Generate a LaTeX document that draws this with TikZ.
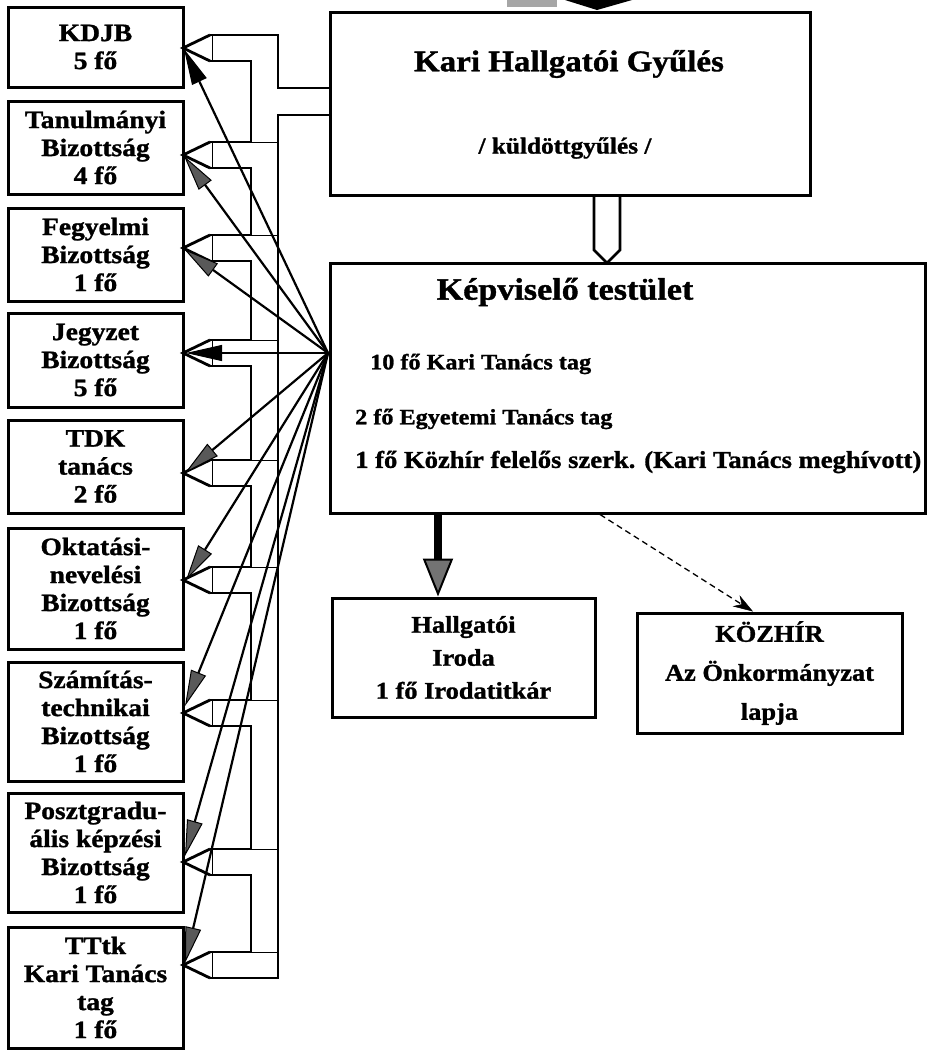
\documentclass[tikz,border=0pt]{standalone}
\usepackage{fontspec}
\setmainfont{Liberation Serif}[FakeStretch=1.1, BoldFeatures={FakeBold=1.2}]
\usetikzlibrary{arrows.meta}
\begin{document}
\begin{tikzpicture}[x=1pt,y=-1pt,
  lbox/.style={draw, line width=3pt, minimum width=175pt, inner sep=0pt, align=center,
    font=\bfseries\fontsize{25}{28}\selectfont},
  bigbox/.style={draw, line width=3pt, inner sep=0pt},
  wall/.style={line width=2.8pt, line join=miter},
  thinwall/.style={line width=0.9pt},
  fan/.style={line width=2.2pt, -{Triangle[length=36pt,width=16pt,line width=1pt,fill=#1]}},
  fan/.default={black!65},
  ktline/.style={anchor=west, inner sep=0pt, font=\bfseries\fontsize{22}{22}\selectfont},
]
\useasboundingbox (0,0) rectangle (927,1050);

% partial shape at the top edge
\fill[black!35] (507,0) rectangle (557,7);
\fill (565,0) -- (597,10) -- (632,0) -- cycle;

% left column boxes
\node[lbox, minimum height=80pt]  (b1) at (95.5,47)    {KDJB\\5 fő};
\node[lbox, minimum height=93pt]  (b2) at (95.5,147.5) {Tanulmányi\\Bizottság\\4 fő};
\node[lbox, minimum height=93pt]  (b3) at (95.5,254.5) {Fegyelmi\\Bizottság\\1 fő};
\node[lbox, minimum height=94pt]  (b4) at (95.5,360)   {Jegyzet\\Bizottság\\5 fő};
\node[lbox, minimum height=93pt]  (b5) at (95.5,466.5) {TDK\\tanács\\2 fő};
\node[lbox, minimum height=121pt] (b6) at (95.5,588.5) {Oktatási-\\nevelési\\Bizottság\\1 fő};
\node[lbox, minimum height=119pt] (b7) at (95.5,721.5) {Számítás-\\technikai\\Bizottság\\1 fő};
\node[lbox, minimum height=119pt] (b8) at (95.5,852.5) {Posztgradu-\\ális képzési\\Bizottság\\1 fő};
\node[lbox, minimum height=121pt] (b9) at (95.5,987.5) {TTtk\\Kari Tanács\\tag\\1 fő};

% main boxes
\node[bigbox, minimum width=480pt, minimum height=183pt] (kari) at (570,103.5) {};
\node[font=\bfseries\fontsize{30}{30}\selectfont] (karit) at (569,64) {Kari Hallgatói Gyűlés};
\node[font=\bfseries\fontsize{23}{23}\selectfont] (karis) at (565,148) {/ küldöttgyűlés /};

\node[bigbox, minimum width=595pt, minimum height=250pt] (kt) at (627.5,388) {};
\node[font=\bfseries\fontsize{31}{31}\selectfont] (ktt) at (565,292) {Képviselő testület};
\node[ktline] (kt1) at (370,364) {10 fő Kari Tanács tag};
\node[ktline] (kt2) at (355,419) {2 fő Egyetemi Tanács tag};
\node[ktline, font=\bfseries\fontsize{24.2}{24.2}\selectfont] (kt3) at (355,462) {1 fő Közhír felelős szerk. (Kari Tanács meghívott)};

\node[bigbox, minimum width=263pt, minimum height=119pt, align=center,
  font=\bfseries\fontsize{24}{33}\selectfont] (iroda) at (463.5,657.5)
  {Hallgatói\\Iroda\\1 fő Irodatitkár};
\node[bigbox, minimum width=265pt, minimum height=120pt, align=center,
  font=\bfseries\fontsize{24}{39}\selectfont] (kozhir) at (769.5,673)
  {KÖZHÍR\\Az Önkormányzat\\lapja};

% hollow arrow Kari -> Kepviselo
\draw[wall] (594,195) -- (594,250) -- (607,263) -- (620,250) -- (620,195);

% hollow channel with block arrow heads
\foreach \t in {48,155,248,353,473,580,713,862,965}{
  \draw[wall] (210,\t-13) -- (183,\t) -- (210,\t+13);
  \draw[thinwall] (212,\t-13) -- (212,\t+13);
}
\foreach \a/\b in {48/155,155/248,248/353,353/473,473/580,580/713,713/862,862/965}{
  \draw[wall] (210,\a+13) -- (251,\a+13) -- (251,\b-13) -- (210,\b-13);
  \draw[thinwall] (251,\b-13) -- (278,\b-13);
}
\draw[wall] (210,35) -- (278,35) -- (278,88) -- (330,88);
\draw[wall] (330,115) -- (278,115) -- (278,978) -- (210,978);

% fan of arrows from the Kepviselo testulet
\coordinate (F) at (328,353);
\coordinate (t1) at (184,49);
\coordinate (t2) at (184,156);
\coordinate (t3) at (184,249);
\coordinate (t4) at (186,353);
\coordinate (t5) at (185,473);
\coordinate (t6) at (186,580);
\coordinate (t7) at (185,706);
\coordinate (t8) at (185,856);
\coordinate (t9) at (185,963);
\draw[fan=black] (F) -- (t1);
\draw[fan] (F) -- (t2);
\draw[fan] (F) -- (t3);
\draw[fan=black] (F) -- (t4);
\draw[fan] (F) -- (t5);
\draw[fan] (F) -- (t6);
\draw[fan] (F) -- (t7);
\draw[fan] (F) -- (t8);
\draw[fan] (F) -- (t9);

% thick arrow to Hallgatoi Iroda
\coordinate (ix) at (438,0);
\draw[line width=8pt, -{Triangle[length=38pt,width=30pt,line width=2pt,fill=black!55]}]
  (kt.south -| ix) -- (iroda.north -| ix);

% dashed arrow to KOZHIR
\coordinate (dx) at (600,0);
\coordinate (kx) at (753,0);
\draw[line width=1.3pt, dash pattern=on 6pt off 4pt,
  -{Stealth[length=20pt,width=13pt,line width=0.5pt]}]
  (kt.south -| dx) -- (kozhir.north -| kx);
\end{tikzpicture}
\end{document}
